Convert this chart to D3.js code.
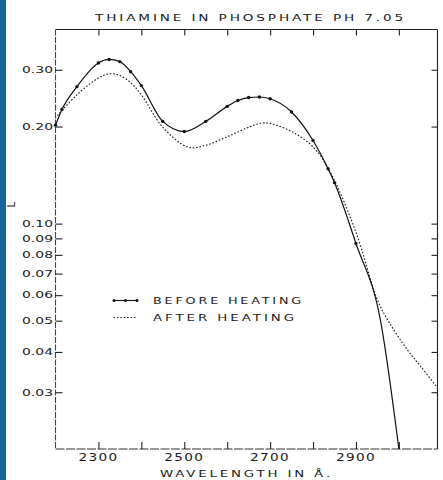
<!DOCTYPE html>
<html>
<head>
<meta charset="utf-8">
<script src="https://cdnjs.cloudflare.com/ajax/libs/d3/7.8.5/d3.min.js"></script>
<style>
  body { margin: 0; background: #fff; }
  text { font-family: "DejaVu Sans", sans-serif; fill: #1a1a1a; }
</style>
</head>
<body>
<script>
// data (wavelength in A, value on log scale)
var beforeWavelength = [2200, 2215, 2250, 2300, 2325, 2350, 2375, 2400, 2450, 2500, 2550, 2600, 2625, 2650, 2675, 2700, 2750, 2800, 2835, 2850, 2900, 2957, 3000];
var beforeValue = [0.202, 0.226, 0.266, 0.315, 0.323, 0.318, 0.296, 0.268, 0.2075, 0.193, 0.2075, 0.231, 0.241, 0.246, 0.247, 0.244, 0.222, 0.181, 0.148, 0.134, 0.0868, 0.0502, 0.020];
var beforeDotCount = 21; // last two points carry no dot

var afterWavelength = [2200, 2250, 2300, 2325, 2350, 2375, 2400, 2450, 2510, 2550, 2600, 2650, 2680, 2700, 2750, 2800, 2840, 2900, 2950, 2975, 3020, 3050, 3090];
var afterValue = [0.213, 0.251, 0.283, 0.2915, 0.288, 0.2735, 0.251, 0.199, 0.1725, 0.175, 0.186, 0.199, 0.205, 0.2045, 0.193, 0.173, 0.1446, 0.094, 0.058, 0.050, 0.0406, 0.0362, 0.0309];

var xTicks = [2300, 2400, 2500, 2600, 2700, 2800, 2900, 3000];
var xTickLabels = ["2300", "", "2500", "", "2700", "", "2900", ""];
var yTicks = [0.30, 0.20, 0.10, 0.09, 0.08, 0.07, 0.06, 0.05, 0.04, 0.03];
var yTickLabels = ["0.30", "0.20", "0.10", "0.09", "0.08", "0.07", "0.06", "0.05", "0.04", "0.03"];
var legendLabels = ["BEFORE HEATING", "AFTER HEATING"];

var svg = d3.select("body").append("svg")
    .attr("width", 443)
    .attr("height", 480);

// blue strip on the left edge
svg.append("rect")
    .attr("x", 0).attr("y", 0)
    .attr("width", 6).attr("height", 480)
    .attr("fill", "#17669b");

var plot = {left: 55.5, right: 437.5, top: 29.5, bottom: 449};

var x = d3.scaleLinear()
    .domain([2200, 3090])
    .range([plot.left, plot.right]);

var y = d3.scaleLog()
    .domain([0.02, 0.4])
    .range([plot.bottom, plot.top]);

// frame
svg.append("line")
    .attr("x1", plot.left).attr("x2", plot.right)
    .attr("y1", plot.top).attr("y2", plot.top)
    .attr("stroke", "#222").attr("stroke-width", 1.1);
svg.append("line")
    .attr("x1", plot.right).attr("x2", plot.right)
    .attr("y1", plot.top).attr("y2", plot.bottom)
    .attr("stroke", "#222").attr("stroke-width", 1.1);
svg.append("line")
    .attr("x1", plot.left).attr("x2", plot.left)
    .attr("y1", plot.top).attr("y2", plot.bottom)
    .attr("stroke", "#444").attr("stroke-width", 1.1)
    .attr("stroke-dasharray", "6,1.5");
svg.append("line")
    .attr("x1", plot.left).attr("x2", plot.right)
    .attr("y1", plot.bottom).attr("y2", plot.bottom)
    .attr("stroke", "#333").attr("stroke-width", 1.1)
    .attr("stroke-dasharray", "9,1.5");

// axes with inward ticks
svg.append("g")
    .attr("transform", "translate(0," + plot.bottom + ")")
    .call(d3.axisTop(x).tickValues(xTicks).tickSize(7).tickFormat(""))
    .call(function(g) { g.select(".domain").remove(); });
svg.append("g")
    .attr("transform", "translate(0," + plot.top + ")")
    .call(d3.axisBottom(x).tickValues(xTicks).tickSize(6).tickFormat(""))
    .call(function(g) { g.select(".domain").remove(); });
svg.append("g")
    .attr("transform", "translate(" + plot.left + ",0)")
    .call(d3.axisRight(y).tickValues(yTicks).tickSize(7).tickFormat(""))
    .call(function(g) { g.select(".domain").remove(); });
svg.append("g")
    .attr("transform", "translate(" + plot.right + ",0)")
    .call(d3.axisLeft(y).tickValues(yTicks).tickSize(6).tickFormat(""))
    .call(function(g) { g.select(".domain").remove(); });
svg.selectAll(".tick line").attr("stroke", "#222").attr("stroke-width", 1.1);

// tick labels
svg.selectAll(".xlab")
    .data(xTicks.filter(function(d, i) { return xTickLabels[i] !== ""; }))
    .enter().append("text")
    .attr("x", function(d) { return x(d); })
    .attr("y", 460.5)
    .attr("text-anchor", "middle")
    .attr("font-size", 10)
    .attr("letter-spacing", 1)
    .attr("textLength", 40)
    .attr("lengthAdjust", "spacingAndGlyphs")
    .text(function(d) { return xTickLabels[xTicks.indexOf(d)]; });

svg.selectAll(".ylab")
    .data(yTicks)
    .enter().append("text")
    .attr("x", 53)
    .attr("y", function(d) { return y(d) + 3.3; })
    .attr("text-anchor", "end")
    .attr("font-size", 9.5)
    .attr("textLength", 31)
    .attr("lengthAdjust", "spacingAndGlyphs")
    .text(function(d, i) { return yTickLabels[i]; });

// title and axis label
svg.append("text")
    .attr("x", 95).attr("y", 21)
    .attr("font-size", 9.5)
    .attr("letter-spacing", 2)
    .attr("textLength", 311)
    .attr("lengthAdjust", "spacingAndGlyphs")
    .text("THIAMINE IN PHOSPHATE PH 7.05");

svg.append("text")
    .attr("x", 160).attr("y", 477.3)
    .attr("font-size", 9.5)
    .attr("letter-spacing", 2)
    .attr("textLength", 173)
    .attr("lengthAdjust", "spacingAndGlyphs")
    .text("WAVELENGTH IN \u00c5.");

svg.append("text")
    .attr("transform", "translate(15,207.5) rotate(-90)")
    .attr("font-size", 10)
    .text("L");

// curves, clipped to the frame
svg.append("clipPath").attr("id", "clip")
  .append("rect")
    .attr("x", plot.left).attr("y", plot.top)
    .attr("width", plot.right - plot.left)
    .attr("height", plot.bottom - plot.top);

var smoothLine = d3.line()
    .x(function(d) { return x(d[0]); })
    .y(function(d) { return y(d[1]); })
    .curve(d3.curveCatmullRom.alpha(0.5));

// the solid curve drops in nearly straight pieces at the end, so monotone
var solidLine = d3.line()
    .x(function(d) { return x(d[0]); })
    .y(function(d) { return y(d[1]); })
    .curve(d3.curveMonotoneX);

var before = d3.zip(beforeWavelength, beforeValue);
var after = d3.zip(afterWavelength, afterValue);

svg.append("path")
    .datum(after)
    .attr("clip-path", "url(#clip)")
    .attr("d", smoothLine)
    .attr("fill", "none")
    .attr("stroke", "#222")
    .attr("stroke-width", 1.2)
    .attr("stroke-linecap", "round")
    .attr("stroke-dasharray", "0.6,2.8");

svg.append("path")
    .datum(before)
    .attr("clip-path", "url(#clip)")
    .attr("d", solidLine)
    .attr("fill", "none")
    .attr("stroke", "#111")
    .attr("stroke-width", 1.2);

svg.selectAll(".dot")
    .data(before.slice(0, beforeDotCount))
    .enter().append("circle")
    .attr("cx", function(d) { return x(d[0]); })
    .attr("cy", function(d) { return y(d[1]); })
    .attr("r", 1.7)
    .attr("fill", "#111");

// legend
var legend = svg.append("g");
legend.append("line")
    .attr("x1", 114).attr("x2", 137).attr("y1", 300.5).attr("y2", 300.5)
    .attr("stroke", "#111").attr("stroke-width", 1.1);
legend.selectAll("circle")
    .data([114, 125.5, 137])
    .enter().append("circle")
    .attr("cx", function(d) { return d; })
    .attr("cy", 300.5)
    .attr("r", 1.5)
    .attr("fill", "#111");
legend.append("line")
    .attr("x1", 114).attr("x2", 137).attr("y1", 317.5).attr("y2", 317.5)
    .attr("stroke", "#222").attr("stroke-width", 1.2)
    .attr("stroke-linecap", "round")
    .attr("stroke-dasharray", "0.6,2.8");
legend.selectAll("text")
    .data(legendLabels)
    .enter().append("text")
    .attr("x", 153)
    .attr("y", function(d, i) { return 304 + i * 17; })
    .attr("font-size", 9)
    .attr("letter-spacing", 2)
    .attr("textLength", function(d, i) { return i === 0 ? 151 : 144; })
    .attr("lengthAdjust", "spacingAndGlyphs")
    .text(function(d) { return d; });
</script>
</body>
</html>
